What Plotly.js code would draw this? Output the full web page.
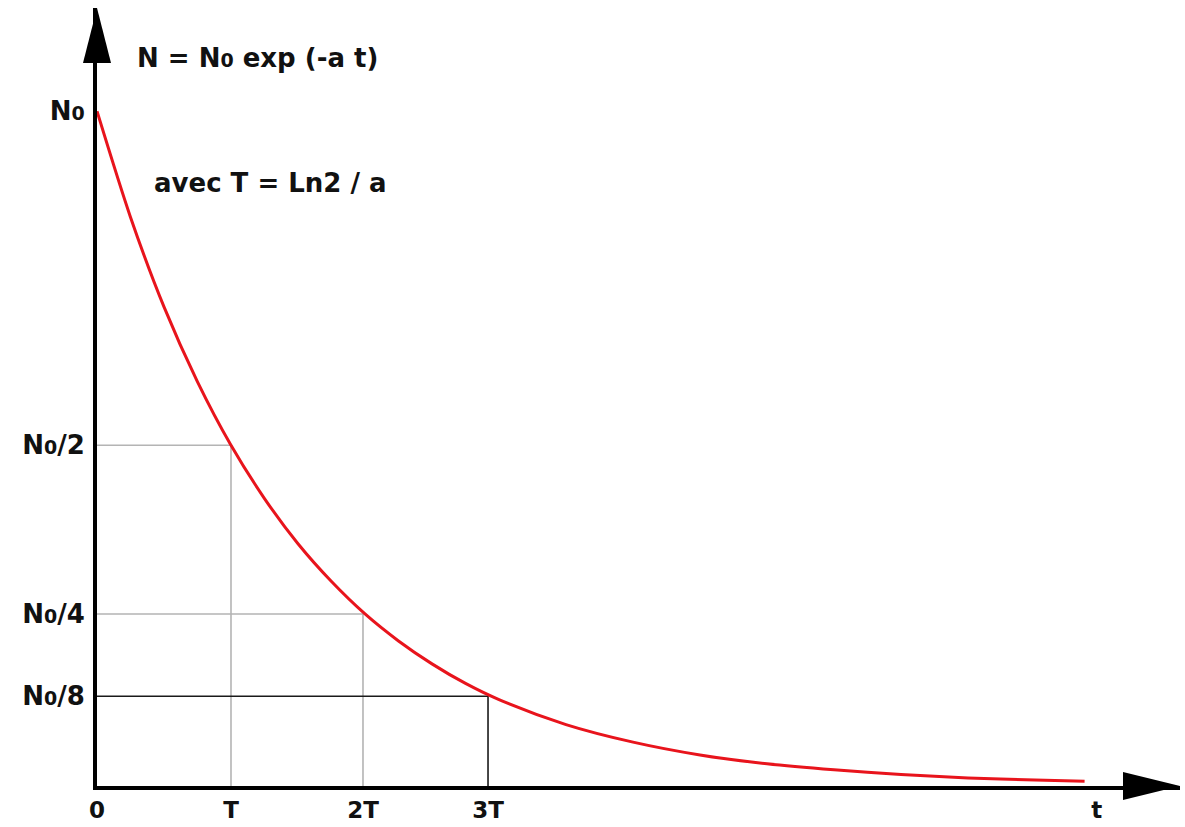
<!DOCTYPE html>
<html>
<head>
<meta charset="utf-8">
<script src="https://cdn.plot.ly/plotly-3.0.1.min.js"></script>
<style>html,body{margin:0;padding:0;background:#fff;}#chart{width:1185px;height:827px;}</style>
</head>
<body>
<div id="chart"></div>
<script>
// Decay curve (t in units of T, N in units of N0)
var curveT = [0, 0.25, 0.5, 0.75, 1, 1.25, 1.5, 1.75, 2, 2.25, 2.5, 2.75, 3, 3.5, 4, 4.5, 5, 5.5, 6, 6.5, 7, 7.37];
var curveN = [1.0, 0.843, 0.71, 0.599, 0.505, 0.426, 0.359, 0.303, 0.255, 0.215, 0.181, 0.152, 0.128, 0.091, 0.065, 0.046, 0.033, 0.024, 0.017, 0.012, 0.009, 0.007];

// Marked points (half-lives)
var markT = [1, 1.985, 2.918];
var markN = [0.505, 0.255, 0.133];
var markColors = ['#b4b4b4', '#b4b4b4', '#1a1a1a'];

// Tick labels
var xTickVals = [0, 1, 1.985, 2.918, 7.46];
var xTickText = ['0', 'T', '2T', '3T', 't'];
var sub0 = "N<span style='font-size:19px'>0</span>";
var yTickVals = [1.0, 0.505, 0.255, 0.133];
var yTickText = [sub0, sub0 + '/2', sub0 + '/4', sub0 + '/8'];

var traces = [];
for (var i = 0; i < markT.length; i++) {
  traces.push({
    x: [0, markT[i], markT[i]],
    y: [markN[i], markN[i], 0],
    mode: 'lines',
    line: {color: markColors[i], width: 1.6},
    hoverinfo: 'skip',
    showlegend: false
  });
}
traces.push({
  x: curveT, y: curveN,
  mode: 'lines',
  line: {color: '#e8141c', width: 3, shape: 'spline', smoothing: 0.8},
  showlegend: false
});

var font = {family: 'DejaVu Sans', size: 26, color: '#111', weight: 'bold'};
var xFont = {family: 'DejaVu Sans', size: 23, color: '#111', weight: 'bold'};

var layout = {
  width: 1185, height: 827,
  margin: {l: 97, r: 5, t: 8, b: 41},
  paper_bgcolor: '#fff', plot_bgcolor: '#fff',
  showlegend: false,
  xaxis: {
    range: [0, 8.082], showgrid: false, zeroline: false,
    showline: true, linewidth: 4, linecolor: '#000',
    tickmode: 'array', tickvals: xTickVals, ticktext: xTickText,
    ticks: '', tickfont: xFont, ticklabelstandoff: 0
  },
  yaxis: {
    range: [0, 1.153], showgrid: false, zeroline: false,
    showline: true, linewidth: 4, linecolor: '#000',
    tickmode: 'array', tickvals: yTickVals, ticktext: yTickText,
    ticks: '', tickfont: font, ticklabelstandoff: 3
  },
  shapes: [
    {type: 'path', xref: 'paper', yref: 'paper', xsizemode: 'pixel', ysizemode: 'pixel',
     xanchor: 0, yanchor: 1, path: 'M0,0 L-14,-55 L14,-55 Z',
     fillcolor: '#000', line: {width: 0}},
    {type: 'path', xref: 'paper', yref: 'paper', xsizemode: 'pixel', ysizemode: 'pixel',
     xanchor: 1, yanchor: 0, path: 'M0,0 L-57,14 L-57,-14 Z',
     fillcolor: '#000', line: {width: 0}}
  ],
  annotations: [
    {x: 0.284, y: 1.0785, xref: 'x', yref: 'y', xanchor: 'left', yanchor: 'middle',
     text: 'N = ' + sub0 + ' exp (-a t)', showarrow: false, font: font},
    {x: 0.41, y: 0.893, xref: 'x', yref: 'y', xanchor: 'left', yanchor: 'middle',
     text: 'avec T = Ln2 / a', showarrow: false, font: font}
  ]
};

Plotly.newPlot('chart', traces, layout, {displayModeBar: false, staticPlot: true});
</script>
</body>
</html>
